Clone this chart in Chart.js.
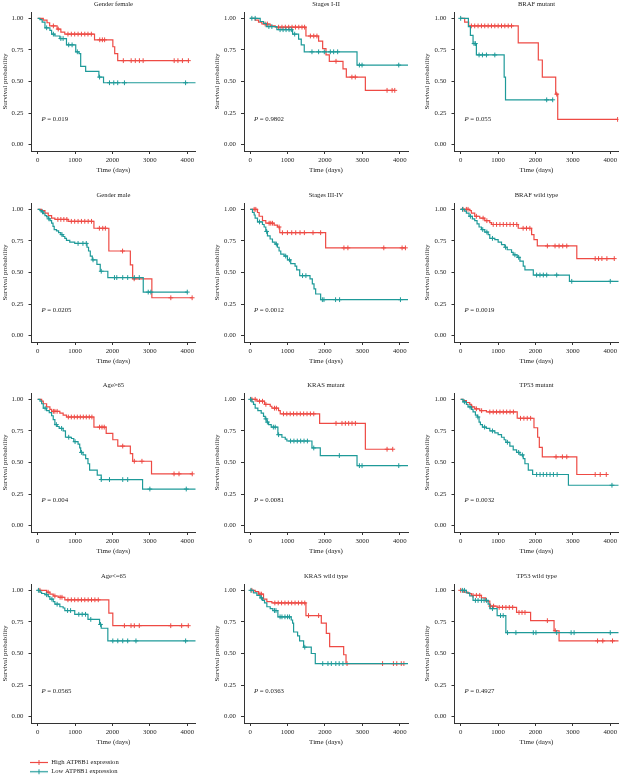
<!DOCTYPE html>
<html>
<head>
<meta charset="utf-8">
<script src="https://cdn.jsdelivr.net/npm/chart.js@4/dist/chart.umd.min.js"></script>
<style>
  html, body { margin: 0; padding: 0; background: #fff; overflow: hidden; }
  #wrap { position: relative; width: 620px; height: 776px; overflow: hidden; background: #fff; }
  canvas { position: absolute; }
</style>
</head>
<body>
<div id="wrap"></div>
<script>
// ---------------- DATA ----------------
const panelTitles = ["Gender female", "Stages I-II", "BRAF mutant",
  "Gender male", "Stages III-IV", "BRAF wild type",
  "Age>65", "KRAS mutant", "TP53 mutant",
  "Age<=65", "KRAS wild type", "TP53 wild type"];
const pValues = ["0.019", "0.9802", "0.055", "0.0205", "0.0012", "0.0019",
  "0.004", "0.0081", "0.0032", "0.0565", "0.0363", "0.4927"];
const seriesLabels = ["High ATP8B1 expression", "Low ATP8B1 expression"];
const xTickValues = [0, 1000, 2000, 3000, 4000];
const yTickValues = [0, 0.25, 0.5, 0.75, 1];

// 1 Gender female
const femaleHighTime = [150, 250, 320, 520, 620, 725, 1520, 2010, 2060, 2140];
const femaleHighSurv = [0.985, 0.965, 0.94, 0.915, 0.89, 0.875, 0.83, 0.775, 0.72, 0.665];
const femaleHighCens = [420, 550, 810, 900, 990, 1080, 1170, 1260, 1345, 1435, 1660, 1730, 1790, 2290, 2500, 2610, 2720, 2820, 3650, 3750, 3870, 4030];
const femaleLowTime = [60, 120, 195, 327, 372, 460, 593, 770, 1018, 1106, 1150, 1283, 1637, 1761];
const femaleLowSurv = [0.99, 0.97, 0.925, 0.905, 0.875, 0.86, 0.84, 0.79, 0.735, 0.72, 0.62, 0.58, 0.535, 0.49];
const femaleLowCens = [240, 420, 620, 680, 830, 920, 1060, 1655, 1920, 2035, 2140, 2320, 3955, 4400];

// 2 Stages I-II
const stage12HighTime = [134, 223, 313, 536, 670, 1491, 1830, 1938, 2027, 2116, 2482, 2571, 3080];
const stage12HighSurv = [0.985, 0.97, 0.955, 0.94, 0.93, 0.86, 0.82, 0.76, 0.71, 0.66, 0.60, 0.535, 0.43];
const stage12HighCens = [400, 460, 760, 850, 940, 1030, 1120, 1210, 1300, 1385, 1455, 1610, 1700, 1785, 2295, 2720, 2810, 3660, 3795, 3866];
const stage12LowTime = [268, 357, 430, 714, 1134, 1295, 1366, 1446, 2857];
const stage12LowSurv = [0.975, 0.96, 0.935, 0.91, 0.875, 0.835, 0.79, 0.735, 0.63];
const stage12LowCens = [45, 134, 500, 580, 800, 880, 960, 1040, 1100, 1190, 1652, 1830, 1982, 2143, 2232, 2339, 2920, 2991, 3973, 4400];

// 3 BRAF mutant
const brafMutHighTime = [107, 215, 1539, 2076, 2183, 2541, 2595];
const brafMutHighSurv = [0.97, 0.94, 0.805, 0.67, 0.535, 0.40, 0.20];
const brafMutHighCens = [286, 376, 465, 555, 644, 734, 823, 913, 1002, 1092, 1181, 1271, 1360, 2568, 4197];
const brafMutLowTime = [206, 260, 331, 420, 1163, 1199];
const brafMutLowSurv = [0.935, 0.865, 0.80, 0.71, 0.535, 0.355];
const brafMutLowCens = [0, 358, 394, 492, 582, 689, 913, 2300, 2461];

// 4 Gender male
const maleHighTime = [106, 195, 283, 372, 460, 814, 1504, 1903, 2478, 2540, 3053];
const maleHighSurv = [0.99, 0.97, 0.95, 0.93, 0.92, 0.905, 0.85, 0.67, 0.56, 0.45, 0.30];
const maleHighCens = [540, 620, 700, 780, 900, 990, 1080, 1170, 1260, 1350, 1440, 1650, 1740, 1810, 2270, 2580, 3560, 4130];
const maleLowTime = [60, 106, 150, 195, 240, 283, 330, 372, 410, 442, 504, 560, 619, 680, 726, 770, 858, 991, 1319, 1360, 1407, 1460, 1584, 1673, 1876, 2823];
const maleLowSurv = [0.99, 0.98, 0.965, 0.95, 0.94, 0.925, 0.91, 0.89, 0.865, 0.84, 0.83, 0.815, 0.80, 0.785, 0.77, 0.755, 0.74, 0.73, 0.70, 0.67, 0.63, 0.60, 0.565, 0.51, 0.46, 0.345];
const maleLowCens = [130, 300, 650, 1080, 1210, 1300, 1480, 1700, 2053, 2115, 2274, 2407, 2584, 2717, 2956, 3027, 4000];

// 5 Stages III-IV
const stage34HighTime = [196, 240, 329, 418, 640, 729, 791, 2018];
const stage34HighSurv = [0.975, 0.945, 0.91, 0.89, 0.875, 0.86, 0.815, 0.695];
const stage34HighCens = [107, 151, 507, 551, 596, 773, 862, 996, 1111, 1218, 1333, 1449, 1680, 1884, 2507, 2613, 3573, 4062, 4151];
const stage34LowTime = [62, 107, 133, 196, 329, 373, 418, 462, 533, 596, 667, 729, 773, 818, 907, 996, 1084, 1200, 1244, 1324, 1600, 1662, 1707, 1751, 1884];
const stage34LowSurv = [0.975, 0.955, 0.93, 0.90, 0.88, 0.86, 0.825, 0.79, 0.765, 0.74, 0.725, 0.70, 0.67, 0.645, 0.63, 0.60, 0.57, 0.55, 0.52, 0.475, 0.45, 0.41, 0.37, 0.33, 0.285];
const stage34LowCens = [250, 440, 700, 950, 1050, 1400, 1490, 1930, 1973, 2284, 2391, 4018, 4400];

// 6 BRAF wild type
const brafWtHighTime = [242, 286, 376, 510, 644, 778, 823, 1539, 1897, 1960, 2049, 3105];
const brafWtHighSurv = [0.99, 0.97, 0.945, 0.93, 0.91, 0.895, 0.88, 0.85, 0.80, 0.76, 0.71, 0.61];
const brafWtHighCens = [63, 152, 197, 420, 600, 700, 870, 960, 1050, 1140, 1230, 1320, 1410, 1500, 1670, 1760, 1850, 2318, 2523, 2631, 2729, 2837, 3597, 3687, 3776, 3910, 4107];
const brafWtLowTime = [107, 152, 224, 313, 376, 438, 492, 555, 644, 734, 778, 913, 1002, 1092, 1181, 1244, 1360, 1405, 1512, 1584, 1673, 1718, 1942, 2908];
const brafWtLowSurv = [0.985, 0.97, 0.945, 0.925, 0.91, 0.885, 0.86, 0.84, 0.82, 0.80, 0.77, 0.76, 0.74, 0.72, 0.70, 0.68, 0.66, 0.64, 0.62, 0.59, 0.55, 0.52, 0.48, 0.43];
const brafWtLowCens = [50, 260, 590, 700, 850, 1200, 1450, 1550, 2031, 2120, 2210, 2300, 2568, 2970, 4000, 4400];

// 7 Age>65
const ageOldHighTime = [106, 150, 239, 327, 372, 593, 681, 770, 1504, 1832, 2009, 2142, 2478, 2540, 3044];
const ageOldHighSurv = [0.985, 0.965, 0.94, 0.92, 0.905, 0.89, 0.875, 0.86, 0.78, 0.73, 0.68, 0.63, 0.57, 0.51, 0.41];
const ageOldHighCens = [420, 460, 520, 820, 900, 980, 1060, 1140, 1220, 1300, 1380, 1450, 1655, 1720, 1780, 2274, 2584, 2788, 3646, 3779, 4133];
const ageOldLowTime = [62, 106, 150, 239, 310, 372, 416, 460, 522, 575, 681, 743, 903, 965, 1080, 1124, 1150, 1212, 1283, 1345, 1389, 1593, 1700, 2805];
const ageOldLowSurv = [0.985, 0.965, 0.93, 0.91, 0.895, 0.87, 0.84, 0.80, 0.785, 0.77, 0.75, 0.70, 0.69, 0.665, 0.645, 0.615, 0.58, 0.56, 0.53, 0.49, 0.44, 0.40, 0.365, 0.29];
const ageOldLowCens = [200, 500, 640, 830, 1000, 1170, 1700, 1920, 2274, 2407, 3000, 3973, 4400];

// 8 KRAS mutant
const krasMutHighTime = [179, 384, 536, 580, 759, 804, 1857, 3080];
const krasMutHighSurv = [0.985, 0.96, 0.945, 0.93, 0.91, 0.885, 0.81, 0.605];
const krasMutHighCens = [45, 134, 250, 330, 420, 650, 700, 890, 980, 1070, 1160, 1250, 1340, 1430, 1520, 1610, 1700, 2295, 2455, 2545, 2634, 2723, 2813, 3660, 3812];
const krasMutLowTime = [45, 89, 134, 205, 295, 357, 402, 446, 491, 563, 741, 848, 938, 982, 1652, 1875, 2857];
const krasMutLowSurv = [0.98, 0.96, 0.93, 0.91, 0.89, 0.865, 0.845, 0.82, 0.80, 0.78, 0.72, 0.70, 0.685, 0.67, 0.615, 0.555, 0.475];
const krasMutLowCens = [10, 420, 460, 620, 670, 760, 1080, 1170, 1260, 1350, 1440, 1530, 1700, 2384, 2920, 2991, 3973, 4400];

// 9 TP53 mutant
const tp53MutHighTime = [63, 152, 242, 286, 376, 510, 689, 1512, 1960, 2058, 2103, 2183, 3105];
const tp53MutHighSurv = [0.99, 0.975, 0.96, 0.94, 0.925, 0.91, 0.90, 0.85, 0.775, 0.70, 0.62, 0.545, 0.405];
const tp53MutHighCens = [300, 420, 560, 780, 870, 960, 1050, 1140, 1230, 1320, 1410, 1600, 1690, 1780, 1870, 2550, 2720, 2837, 3597, 3731, 3893];
const tp53MutLowTime = [63, 152, 197, 286, 331, 394, 447, 492, 528, 582, 689, 779, 913, 1002, 1092, 1163, 1208, 1315, 1405, 1494, 1584, 1673, 1718, 1808, 1924, 2881];
const tp53MutLowSurv = [0.98, 0.96, 0.94, 0.92, 0.90, 0.875, 0.86, 0.82, 0.80, 0.78, 0.77, 0.75, 0.735, 0.72, 0.70, 0.68, 0.66, 0.63, 0.60, 0.58, 0.56, 0.53, 0.49, 0.44, 0.405, 0.32];
const tp53MutLowCens = [100, 250, 460, 640, 850, 1250, 1550, 1650, 2031, 2122, 2210, 2300, 2390, 2480, 2580, 4045, 4400];

// 10 Age<=65
const ageYoungHighTime = [239, 327, 416, 549, 726, 1903, 2009];
const ageYoungHighSurv = [0.985, 0.97, 0.955, 0.945, 0.925, 0.82, 0.72];
const ageYoungHighCens = [60, 280, 460, 600, 650, 810, 900, 990, 1080, 1170, 1260, 1350, 1440, 1530, 1620, 2319, 2496, 2584, 2717, 3558, 3850, 4027];
const ageYoungLowTime = [62, 106, 195, 283, 327, 416, 460, 593, 681, 726, 991, 1345, 1655, 1700, 1876];
const ageYoungLowSurv = [0.985, 0.975, 0.965, 0.95, 0.93, 0.91, 0.89, 0.87, 0.86, 0.84, 0.81, 0.77, 0.73, 0.70, 0.60];
const ageYoungLowCens = [20, 240, 380, 520, 800, 880, 1100, 1190, 1280, 1420, 1680, 2009, 2142, 2274, 2407, 2628, 3956, 4400];

// 11 KRAS wild type
const krasWtHighTime = [134, 223, 357, 446, 580, 1491, 1902, 2036, 2125, 2500, 2563];
const krasWtHighSurv = [0.99, 0.97, 0.93, 0.91, 0.90, 0.80, 0.74, 0.66, 0.555, 0.49, 0.42];
const krasWtHighCens = [45, 260, 300, 660, 750, 840, 930, 1020, 1110, 1200, 1290, 1380, 1460, 1560, 1830, 2590, 3540, 3830, 3920, 4040, 4110];
const krasWtLowTime = [89, 179, 268, 330, 384, 446, 536, 607, 741, 1098, 1134, 1161, 1268, 1321, 1429, 1634, 1741];
const krasWtLowSurv = [0.98, 0.96, 0.94, 0.92, 0.90, 0.87, 0.855, 0.84, 0.79, 0.765, 0.74, 0.67, 0.64, 0.60, 0.55, 0.50, 0.42];
const krasWtLowCens = [20, 300, 650, 690, 800, 850, 930, 1000, 1050, 1460, 1940, 2080, 2170, 2290, 2380, 2480, 4400];

// 12 TP53 wild type
const tp53WtHighTime = [63, 197, 286, 555, 671, 779, 975, 1494, 1870, 2497, 2631];
const tp53WtHighSurv = [0.985, 0.975, 0.96, 0.94, 0.915, 0.875, 0.865, 0.825, 0.76, 0.68, 0.60];
const tp53WtHighCens = [0, 330, 420, 510, 800, 880, 1030, 1120, 1210, 1300, 1390, 1560, 1640, 1720, 2318, 2530, 3660, 3800, 4060, 4400];
const tp53WtLowTime = [152, 242, 331, 734, 779, 975, 1208];
const tp53WtLowSurv = [0.98, 0.955, 0.92, 0.89, 0.855, 0.80, 0.665];
const tp53WtLowCens = [45, 100, 394, 465, 555, 626, 689, 850, 1065, 1137, 1253, 1477, 1942, 2013, 2568, 2953, 3033, 4000, 4400];

// ---------------- BUILD ----------------
const panelSeries = [
  [[femaleHighTime, femaleHighSurv, femaleHighCens], [femaleLowTime, femaleLowSurv, femaleLowCens]],
  [[stage12HighTime, stage12HighSurv, stage12HighCens], [stage12LowTime, stage12LowSurv, stage12LowCens]],
  [[brafMutHighTime, brafMutHighSurv, brafMutHighCens], [brafMutLowTime, brafMutLowSurv, brafMutLowCens]],
  [[maleHighTime, maleHighSurv, maleHighCens], [maleLowTime, maleLowSurv, maleLowCens]],
  [[stage34HighTime, stage34HighSurv, stage34HighCens], [stage34LowTime, stage34LowSurv, stage34LowCens]],
  [[brafWtHighTime, brafWtHighSurv, brafWtHighCens], [brafWtLowTime, brafWtLowSurv, brafWtLowCens]],
  [[ageOldHighTime, ageOldHighSurv, ageOldHighCens], [ageOldLowTime, ageOldLowSurv, ageOldLowCens]],
  [[krasMutHighTime, krasMutHighSurv, krasMutHighCens], [krasMutLowTime, krasMutLowSurv, krasMutLowCens]],
  [[tp53MutHighTime, tp53MutHighSurv, tp53MutHighCens], [tp53MutLowTime, tp53MutLowSurv, tp53MutLowCens]],
  [[ageYoungHighTime, ageYoungHighSurv, ageYoungHighCens], [ageYoungLowTime, ageYoungLowSurv, ageYoungLowCens]],
  [[krasWtHighTime, krasWtHighSurv, krasWtHighCens], [krasWtLowTime, krasWtLowSurv, krasWtLowCens]],
  [[tp53WtHighTime, tp53WtHighSurv, tp53WtHighCens], [tp53WtLowTime, tp53WtLowSurv, tp53WtLowCens]]
];

const FONT = '"Liberation Serif", "Times New Roman", serif';
const RED = '#EE4A44';
const TEAL = '#1E9A99';
const AXIS = '#333333';
const TEXT = '#222222';

function survAt(t, times, surv) {
  let s = 1;
  for (let i = 0; i < times.length; i++) { if (times[i] <= t) s = surv[i]; }
  return s;
}
function stepData(times, surv, cens) {
  const pts = [{x: 0, y: 1}];
  times.forEach((t, i) => pts.push({x: t, y: surv[i]}));
  const last = Math.max(times[times.length - 1], ...cens);
  pts.push({x: last, y: surv[surv.length - 1]});
  return pts;
}
function censData(times, surv, cens) {
  return cens.map(t => ({x: t, y: survAt(t, times, surv)}));
}
function curveSets(series, color, label) {
  const [t, s, c] = series;
  return [
    {label: label, data: stepData(t, s, c), showLine: true, stepped: true,
     borderColor: color, borderWidth: 1.2, pointRadius: 0, pointHoverRadius: 0, fill: false},
    {label: label + ' censored', data: censData(t, s, c), showLine: false,
     pointStyle: 'cross', pointRadius: 2.4, pointHoverRadius: 2.4,
     borderColor: color, pointBorderColor: color, pointBorderWidth: 1, backgroundColor: color}
  ];
}

const panelText = {
  id: 'panelText',
  afterDraw(chart, args, opts) {
    const {ctx, chartArea, scales} = chart;
    ctx.save();
    ctx.fillStyle = TEXT;
    ctx.textBaseline = 'middle';
    ctx.textAlign = 'center';
    ctx.font = '6.6px ' + FONT;
    ctx.fillText(opts.title, (chartArea.left + chartArea.right) / 2, chartArea.top - 8);
    const px = scales.x.getPixelForValue(100);
    const py = scales.y.getPixelForValue(0.2);
    ctx.textAlign = 'left';
    ctx.font = 'italic 6.8px ' + FONT;
    ctx.fillText('P', px, py);
    const w = ctx.measureText('P').width;
    ctx.font = '6.8px ' + FONT;
    ctx.fillText(' = ' + opts.p, px + w, py);
    ctx.restore();
  }
};

const wrap = document.getElementById('wrap');
const colLeft = [0, 212, 422];
const yAxisW = [31.5, 32, 32.5];
const rowTop = [0, 191, 381, 572];
const CW = 210, CH = 175, PLOTW = 164;

panelSeries.forEach((series, i) => {
  const col = i % 3, row = Math.floor(i / 3);
  const cv = document.createElement('canvas');
  cv.width = CW; cv.height = CH;
  cv.style.width = CW + 'px'; cv.style.height = CH + 'px';
  cv.style.left = colLeft[col] + 'px'; cv.style.top = rowTop[row] + 'px';
  wrap.appendChild(cv);
  const yw = yAxisW[col];
  new Chart(cv, {
    type: 'scatter',
    data: {
      datasets: [
        ...curveSets(series[1], TEAL, seriesLabels[1]),
        ...curveSets(series[0], RED, seriesLabels[0])
      ]
    },
    options: {
      responsive: false,
      animation: false,
      devicePixelRatio: 1,
      events: [],
      layout: {padding: {top: 12, bottom: 1, left: 0, right: CW - yw - PLOTW}},
      plugins: {
        legend: {display: false},
        tooltip: {enabled: false},
        panelText: {title: panelTitles[i], p: pValues[i]}
      },
      scales: {
        x: {
          type: 'linear', min: -165, max: 4220,
          afterBuildTicks: s => { s.ticks = xTickValues.map(v => ({value: v})); },
          afterFit: s => { s.height = 23; },
          ticks: {font: {family: FONT, size: 6.8}, color: TEXT, padding: 2, maxRotation: 0, autoSkip: false,
                  callback: v => String(v)},
          grid: {drawOnChartArea: false, drawTicks: true, tickLength: 3, color: AXIS, lineWidth: 1},
          border: {display: true, color: AXIS, width: 1},
          title: {display: true, text: 'Time (days)', font: {family: FONT, size: 7}, color: TEXT, padding: {top: 0, bottom: 0}}
        },
        y: {
          type: 'linear', min: -0.05, max: 1.05,
          afterBuildTicks: s => { s.ticks = yTickValues.map(v => ({value: v})); },
          afterFit: s => { s.width = yw; },
          ticks: {font: {family: FONT, size: 6.8}, color: TEXT, padding: 5, callback: v => Number(v).toFixed(2)},
          grid: {drawOnChartArea: false, drawTicks: true, tickLength: 3, color: AXIS, lineWidth: 1},
          border: {display: true, color: AXIS, width: 1},
          title: {display: true, text: 'Survival probability', font: {family: FONT, size: 7}, color: TEXT, padding: {top: 1, bottom: 0}}
        }
      }
    },
    plugins: [panelText]
  });
});

// ---------------- LEGEND ----------------
function legendIcon(color) {
  const c = document.createElement('canvas');
  c.width = 18; c.height = 7;
  const g = c.getContext('2d');
  g.strokeStyle = color; g.lineWidth = 1.2;
  g.beginPath(); g.moveTo(0, 3.5); g.lineTo(18, 3.5); g.stroke();
  g.lineWidth = 1;
  g.beginPath(); g.moveTo(9, 1); g.lineTo(9, 6); g.stroke();
  return c;
}
const lg = document.createElement('canvas');
lg.width = 420; lg.height = 26;
lg.style.width = '420px'; lg.style.height = '26px';
lg.style.left = '0px'; lg.style.top = '752px';
wrap.appendChild(lg);
new Chart(lg, {
  type: 'scatter',
  data: {datasets: [
    {label: seriesLabels[0], data: [], borderColor: RED},
    {label: seriesLabels[1], data: [], borderColor: TEAL}
  ]},
  options: {
    responsive: false, animation: false, devicePixelRatio: 1, events: [],
    layout: {padding: {left: 27.4, top: 4.6, right: 0, bottom: 0}},
    scales: {x: {display: false}, y: {display: false}},
    plugins: {
      tooltip: {enabled: false},
      legend: {
        position: 'left', align: 'start', maxWidth: 300,
        labels: {
          usePointStyle: true, pointStyleWidth: 18, padding: 2.6, color: TEXT,
          font: {family: FONT, size: 6.6},
          generateLabels: chart => chart.data.datasets.map((ds, i) => ({
            text: ds.label, pointStyle: legendIcon(ds.borderColor),
            fillStyle: 'rgba(0,0,0,0)', strokeStyle: 'rgba(0,0,0,0)', lineWidth: 0,
            hidden: false, datasetIndex: i, fontColor: TEXT
          }))
        }
      }
    }
  }
});
</script>
</body>
</html>
